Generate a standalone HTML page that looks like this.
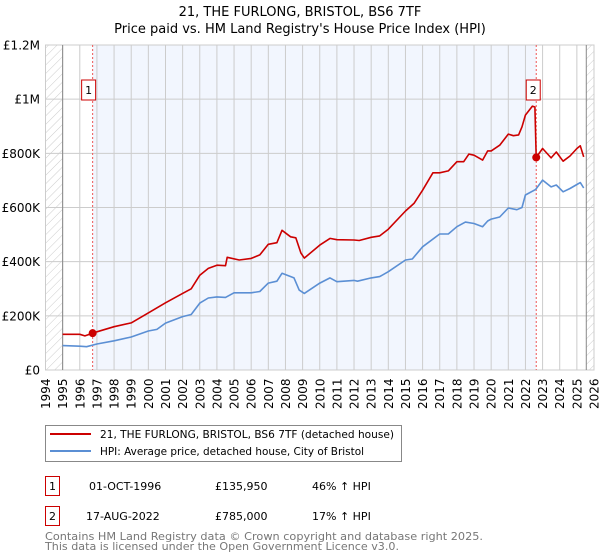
<!DOCTYPE html>
<html><head><meta charset="utf-8"><style>
body{margin:0;background:#fff;font-family:"DejaVu Sans","Liberation Sans",sans-serif;}
svg{display:block}
</style></head><body>
<svg width="600" height="560" xmlns="http://www.w3.org/2000/svg" font-family="DejaVu Sans, Liberation Sans, sans-serif">
<defs>
<pattern id="hatch" width="6" height="6" patternUnits="userSpaceOnUse" patternTransform="rotate(45)"><line x1="0" y1="0" x2="0" y2="6" stroke="#ccc" stroke-width="1"/></pattern>
</defs>
<text x="300" y="16" text-anchor="middle" font-size="13">21, THE FURLONG, BRISTOL, BS6 7TF</text>
<text x="300" y="33" text-anchor="middle" font-size="13">Price paid vs. HM Land Registry's House Price Index (HPI)</text>
<g id="plot"></g>
<g>
<rect x="45.5" y="425.5" width="356" height="36" fill="#fff" stroke="#888"/>
<line x1="50" y1="434" x2="91" y2="434" stroke="#cc0000" stroke-width="2"/>
<text x="100" y="438" font-size="11" textLength="294" lengthAdjust="spacingAndGlyphs">21, THE FURLONG, BRISTOL, BS6 7TF (detached house)</text>
<line x1="50" y1="451" x2="91" y2="451" stroke="#5b8fd4" stroke-width="2"/>
<text x="100" y="455" font-size="11" textLength="264" lengthAdjust="spacingAndGlyphs">HPI: Average price, detached house, City of Bristol</text>
</g>
<g font-size="11">
<rect x="45.5" y="476.5" width="14" height="19" fill="#fff" stroke="#cc0000"/>
<text x="52.5" y="490" text-anchor="middle">1</text>
<text x="89" y="490">01-OCT-1996</text>
<text x="215" y="490">£135,950</text>
<text x="312" y="490">46% ↑ HPI</text>
<rect x="45.5" y="506.5" width="14" height="19" fill="#fff" stroke="#cc0000"/>
<text x="52.5" y="520" text-anchor="middle">2</text>
<text x="86" y="520">17-AUG-2022</text>
<text x="215" y="520">£785,000</text>
<text x="312" y="520">17% ↑ HPI</text>
</g>
<text x="45" y="540" font-size="11" fill="#777" textLength="438" lengthAdjust="spacingAndGlyphs">Contains HM Land Registry data © Crown copyright and database right 2025.</text>
<text x="45" y="550" font-size="11" fill="#777" textLength="354" lengthAdjust="spacingAndGlyphs">This data is licensed under the Open Government Licence v3.0.</text>
</svg>
<script>
const hpiYears=[1995,1996,1996.4,1997,1998,1999,2000,2000.5,2001,2002,2002.5,2003,2003.5,2004,2004.5,2005,2006,2006.5,2007,2007.5,2007.8,2008.5,2008.8,2009.1,2010,2010.6,2011,2012,2012.2,2013,2013.5,2014,2015,2015.4,2016,2017,2017.5,2018,2018.5,2019,2019.5,2019.8,2020,2020.5,2021,2021.5,2021.8,2022,2022.6,2023,2023.5,2023.8,2024.2,2024.6,2025,2025.2,2025.4];
const hpiValues=[90,88,86,96,108,122,144,150,173,197,205,247,266,270,268,285,285,290,321,328,357,340,295,283,321,340,326,331,328,340,345,363,406,410,455,502,502,529,546,541,529,550,557,565,598,592,600,646,667,701,676,683,658,670,685,692,672];
const redYears=[1995,1996,1996.3,1996.75,1997,1998,1999,2000,2001,2002,2002.5,2003,2003.5,2004,2004.5,2004.6,2005.3,2006,2006.5,2007,2007.5,2007.8,2008.3,2008.6,2008.9,2009.1,2010,2010.6,2011,2012,2012.3,2013,2013.5,2014,2015,2015.5,2016,2016.6,2017,2017.5,2018,2018.4,2018.7,2019,2019.5,2019.8,2020,2020.5,2021,2021.3,2021.6,2021.8,2022,2022.4,2022.55,2022.63,2023,2023.5,2023.8,2024.2,2024.6,2025,2025.2,2025.4];
const redValues=[132,132,126,136,141,160,174,211,248,283,300,350,375,387,385,416,406,412,425,464,470,516,492,488,432,413,461,486,481,480,478,490,495,520,587,615,664,728,728,735,769,769,797,793,775,809,809,830,871,865,868,898,941,974,971,785,818,783,805,771,790,818,828,787];
const yTicks=[0,200,400,600,800,1000,1200];
const yTickLabels=["£0","£200K","£400K","£600K","£800K","£1M","£1.2M"];
const xTicks=[1994,1995,1996,1997,1998,1999,2000,2001,2002,2003,2004,2005,2006,2007,2008,2009,2010,2011,2012,2013,2014,2015,2016,2017,2018,2019,2020,2021,2022,2023,2024,2025,2026];
const sales=[{label:"1",year:1996.75,value:135.95},{label:"2",year:2022.63,value:785}];

const NS="http://www.w3.org/2000/svg";
const L=45.5,R=594,T=45,B=370;
const X=y=>L+(y-1994)/(2026-1994)*(R-L);
const Y=v=>B-v/1200*(B-T);
const g=document.getElementById('plot');
function mk(tag,attrs,parent){const e=document.createElementNS(NS,tag);for(const k in attrs)e.setAttribute(k,attrs[k]);(parent||g).appendChild(e);return e;}

let e;
e=mk('rect',{x:X(1996.75),y:T,width:X(2022.63)-X(1996.75),height:B-T,fill:'#f2f6fe'});


e=mk('rect',{x:L,y:T,width:X(1995)-L,height:B-T,fill:'url(#hatch)'});


e=mk('rect',{x:X(2025.55),y:T,width:R-X(2025.55),height:B-T,fill:'url(#hatch)'});



xTicks.forEach(t=>{
  e=mk('line',{x1:X(t),x2:X(t),y1:T,y2:B,stroke:'#ccc','stroke-width':1});
  
  
  e=mk('text',{x:0,y:0,transform:`translate(${X(t)+4.5},${B+39}) rotate(-90)`,'font-size':12});
  e.textContent=t;
  
  
});
yTicks.forEach((t,i)=>{
  e=mk('line',{x1:L,x2:R,y1:Y(t),y2:Y(t),stroke:'#ccc','stroke-width':1});
  
  
  e=mk('text',{x:40,y:Y(t)+4.5,'text-anchor':'end','font-size':12});
  e.textContent=yTickLabels[i];
  
  
});
e=mk('rect',{x:L,y:T,width:R-L,height:B-T,fill:'none',stroke:'#ccc'});


e=mk('line',{x1:X(1995),x2:X(1995),y1:T,y2:B,stroke:'#888'});


e=mk('line',{x1:X(2025.55),x2:X(2025.55),y1:T,y2:B,stroke:'#888'});



sales.forEach(s=>{
  e=mk('line',{x1:X(s.year),x2:X(s.year),y1:T,y2:B,stroke:'#ee5555','stroke-dasharray':'2,2'});
  
  
});

function path(xs,vs,color,name){
  const d=xs.map((x,i)=>(i?'L':'M')+X(x).toFixed(1)+','+Y(vs[i]).toFixed(1)).join('');
  const p=mk('path',{d:d,fill:'none',stroke:color,'stroke-width':1.6,'stroke-linejoin':'round'});
  
  
}
path(hpiYears,hpiValues,'#5b8fd4','hpi-line');
path(redYears,redValues,'#cc0000','property-price-line');

sales.forEach(s=>{
  e=mk('circle',{cx:X(s.year),cy:Y(s.value),r:4,fill:'#cc0000'});
  
  
  const off=s.label==='1'?11:10;
  e=mk('rect',{x:X(s.year)-off,y:80,width:14,height:20,fill:'#fff',stroke:'#cc0000'});
  
  
  e=mk('text',{x:X(s.year)-off+7,y:94,'text-anchor':'middle','font-size':11});
  e.textContent=s.label;
  
  
});
</script>
</body></html>
